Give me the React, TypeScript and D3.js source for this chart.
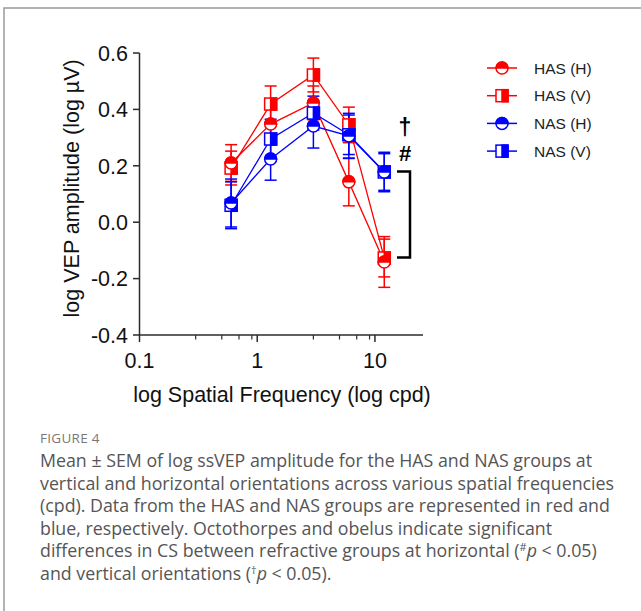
import React from "react";
import * as d3 from "d3";

const freqs = [0.6, 1.3, 3.0, 6.0, 12.0];
const hasH = [0.21, 0.348, 0.423, 0.143, -0.141];
const hasHErr = [0.065, 0.07, 0.06, 0.085, 0.09];
const hasV = [0.192, 0.419, 0.522, 0.345, -0.127];
const hasVErr = [0.06, 0.064, 0.06, 0.063, 0.067];
const nasH = [0.068, 0.224, 0.341, 0.306, 0.178];
const nasHErr = [0.085, 0.075, 0.078, 0.08, 0.07];
const nasV = [0.06, 0.295, 0.387, 0.31, 0.178];
const nasVErr = [0.083, 0.07, 0.06, 0.07, 0.065];

const yTicks = [0.6, 0.4, 0.2, 0.0, -0.2, -0.4];
const xMajor = [0.1, 1, 10];
const xMinor = [0.3, 0.5, 0.7, 0.9, 3, 5, 7, 9];
const seriesNames = ["HAS (H)", "HAS (V)", "NAS (H)", "NAS (V)"];
const bracketVals = [0.18, -0.125];

const RED = "#FF0000";
const BLUE = "#0000FF";
const AX = "#2b2b2b";
const FONT = "'Liberation Sans', Arial, sans-serif";
const CAP_FONT = "'Open Sans', 'Noto Sans', sans-serif";
const FS = 21.5;

type Series = { name: string; vals: number[]; err: number[]; color: string; shape: "circle" | "square" };

const series: Series[] = [
  { name: seriesNames[1], vals: hasV, err: hasVErr, color: RED, shape: "square" },
  { name: seriesNames[0], vals: hasH, err: hasHErr, color: RED, shape: "circle" },
  { name: seriesNames[3], vals: nasV, err: nasVErr, color: BLUE, shape: "square" },
  { name: seriesNames[2], vals: nasH, err: nasHErr, color: BLUE, shape: "circle" },
];
const legendOrder = [1, 0, 3, 2];

function Marker({ cx, cy, color, shape }: { cx: number; cy: number; color: string; shape: string }) {
  if (shape === "circle") {
    const r = 6;
    return (
      <g>
        <circle cx={cx} cy={cy} r={r} fill="#fff" stroke={color} strokeWidth={1.5} />
        <path d={`M${cx - r},${cy} A${r},${r} 0 0 1 ${cx + r},${cy} Z`} fill={color} stroke={color} strokeWidth={1.5} />
      </g>
    );
  }
  const s = 6;
  return (
    <g>
      <rect x={cx - s} y={cy - s} width={2 * s} height={2 * s} fill="#fff" stroke={color} strokeWidth={1.5} />
      <rect x={cx} y={cy - s} width={s} height={2 * s} fill={color} stroke={color} strokeWidth={1.5} />
    </g>
  );
}

export default function App() {
  const x = d3.scaleLog().domain([0.1, 25.6]).range([139.5, 423]);
  const y = d3.scaleLinear().domain([-0.4, 0.6]).range([335, 53]);
  const line = d3
    .line<number>()
    .x((_, i) => x(freqs[i]))
    .y((v) => y(v));

  const captionLines = [
    "Mean \u00B1 SEM of log ssVEP amplitude for the HAS and NAS groups at",
    "vertical and horizontal orientations across various spatial frequencies",
    "(cpd). Data from the HAS and NAS groups are represented in red and",
    "blue, respectively. Octothorpes and obelus indicate significant",
  ];
  const capY0 = 467;
  const capDy = 22.5;
  const capFs = 17.8;

  return (
    <svg width={641} height={611} style={{ position: "absolute", left: 0, top: 0, background: "#fff" }}>
      <rect x={0} y={0} width={641} height={611} fill="#fff" />
      {/* frame */}
      <path d="M4,611 V8 H641" fill="none" stroke="#9a9a9a" strokeWidth={1.5} />

      {/* series lines */}
      {series.map((s) => (
        <path key={"l" + s.name} d={line(s.vals) || ""} fill="none" stroke={s.color} strokeWidth={1.3} />
      ))}
      {/* error bars */}
      {series.map((s) =>
        s.vals.map((v, i) => {
          const cx = x(freqs[i]);
          const y1 = y(v + s.err[i]);
          const y2 = y(v - s.err[i]);
          return (
            <g key={"e" + s.name + i} stroke={s.color} strokeWidth={1.5}>
              <line x1={cx} x2={cx} y1={y1} y2={y2} />
              <line x1={cx - 6} x2={cx + 6} y1={y1} y2={y1} />
              <line x1={cx - 6} x2={cx + 6} y1={y2} y2={y2} />
            </g>
          );
        })
      )}
      {/* markers */}
      {series.map((s) =>
        s.vals.map((v, i) => (
          <Marker key={"m" + s.name + i} cx={x(freqs[i])} cy={y(v)} color={s.color} shape={s.shape} />
        ))
      )}

      {/* y axis */}
      <line x1={139.5} x2={139.5} y1={y(0.6)} y2={y(-0.4)} stroke={AX} strokeWidth={1.5} />
      {yTicks.map((t) => (
        <g key={"yt" + t}>
          <line x1={133} x2={139.5} y1={y(t)} y2={y(t)} stroke={AX} strokeWidth={1.5} />
          <text x={128} y={y(t)} dy="0.36em" textAnchor="end" fontFamily={FONT} fontSize={FS} fill="#111">
            {t.toFixed(1)}
          </text>
        </g>
      ))}
      {/* x axis */}
      <line x1={139.5} x2={423} y1={335} y2={335} stroke={AX} strokeWidth={1.5} />
      {xMajor.map((t) => (
        <g key={"xt" + t}>
          <line x1={x(t)} x2={x(t)} y1={335} y2={342} stroke={AX} strokeWidth={1.5} />
          <text x={x(t)} y={368} textAnchor="middle" fontFamily={FONT} fontSize={FS} fill="#111">
            {String(t)}
          </text>
        </g>
      ))}
      {xMinor.map((t) => (
        <line key={"xm" + t} x1={x(t)} x2={x(t)} y1={335} y2={339.5} stroke={AX} strokeWidth={1.2} />
      ))}

      {/* axis titles */}
      <text x={282} y={402} textAnchor="middle" fontFamily={FONT} fontSize={FS} fill="#111">
        log Spatial Frequency (log cpd)
      </text>
      <text
        transform={`translate(79,${y(0.12)}) rotate(-90)`}
        textAnchor="middle"
        fontFamily={FONT}
        fontSize={FS}
        fill="#111"
      >
        log VEP amplitude (log µV)
      </text>

      {/* significance bracket */}
      <path
        d={`M397,${y(bracketVals[0])} H410 V${y(bracketVals[1])} H397`}
        fill="none"
        stroke="#000"
        strokeWidth={2.5}
      />
      <text x={405} y={135} textAnchor="middle" fontFamily={FONT} fontSize={23} fontWeight="bold" fill="#000">
        †
      </text>
      <text x={405} y={161} textAnchor="middle" fontFamily={FONT} fontSize={22} fontWeight="bold" fill="#000">
        #
      </text>

      {/* legend */}
      {legendOrder.map((si, k) => {
        const s = series[si];
        const ly = 68 + k * 27.7;
        return (
          <g key={"lg" + s.name}>
            <line x1={487} x2={517} y1={ly} y2={ly} stroke={s.color} strokeWidth={1.5} />
            <Marker cx={502} cy={ly} color={s.color} shape={s.shape} />
            <text x={534} y={ly} dy="0.36em" fontFamily={FONT} fontSize={15.5} fill="#222">
              {s.name}
            </text>
          </g>
        );
      })}

      {/* caption */}
      <text x={40} y={443} fontFamily={CAP_FONT} fontSize={13.5} fill="#777" letterSpacing={0.3}>
        FIGURE 4
      </text>
      {captionLines.map((l, i) => (
        <text key={"cap" + i} x={40} y={capY0 + i * capDy} fontFamily={CAP_FONT} fontSize={capFs} fill="#555">
          {l}
        </text>
      ))}
      <text x={40} y={capY0 + 4 * capDy} fontFamily={CAP_FONT} fontSize={capFs} fill="#555">
        differences in CS between refractive groups at horizontal (
        <tspan fontSize={11} dy={-6}>#</tspan>
        <tspan fontStyle="italic" dy={6}>p</tspan> {"< 0.05)"}
      </text>
      <text x={40} y={capY0 + 5 * capDy} fontFamily={CAP_FONT} fontSize={capFs} fill="#555">
        and vertical orientations (
        <tspan fontSize={11} dy={-6}>†</tspan>
        <tspan fontStyle="italic" dy={6}>p</tspan> {"< 0.05)."}
      </text>
    </svg>
  );
}
